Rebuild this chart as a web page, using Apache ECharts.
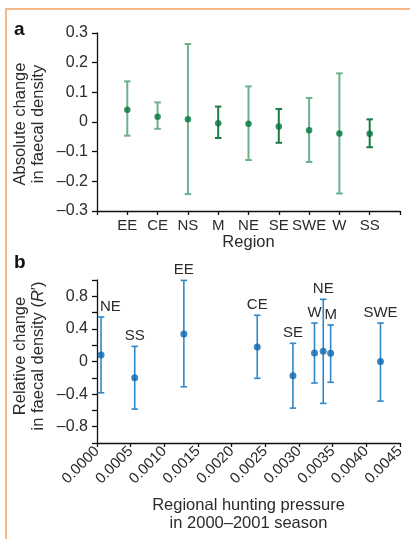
<!DOCTYPE html>
<html><head><meta charset="utf-8">
<script src="https://cdn.jsdelivr.net/npm/echarts@6/dist/echarts.min.js"></script>
<style>html,body{margin:0;padding:0;background:#fff}#c{width:410px;height:539px}</style>
</head><body><div id="c"></div>
<script>
// Panel a: absolute change in faecal density by region
const regionsA = ['EE','CE','NS','M','NE','SE','SWE','W','SS'];
const meanA  = [0.041, 0.018, 0.009, -0.004, -0.006, -0.015, -0.028, -0.039, -0.040];
const lowerA = [-0.046, -0.023, -0.243, -0.054, -0.128, -0.070, -0.135, -0.241, -0.085];
const upperA = [0.137, 0.066, 0.263, 0.052, 0.120, 0.044, 0.081, 0.164, 0.009];
// Panel b: relative change vs regional hunting pressure
const regionsB  = ['NE','SS','EE','CE','SE','W','NE','M','SWE'];
const pressureB = [0.00006, 0.00056, 0.00129, 0.00238, 0.00291, 0.00323, 0.00336, 0.00347, 0.00421];
const meanB  = [0.080, -0.200, 0.337, 0.178, -0.174, 0.104, 0.125, 0.100, 0.000];
const lowerB = [-0.384, -0.584, -0.310, -0.206, -0.572, -0.264, -0.514, -0.255, -0.486];
const upperB = [0.546, 0.186, 0.995, 0.567, 0.223, 0.472, 0.763, 0.448, 0.472];
const labelTicksB = [0.8, 0.4, 0, -0.4, -0.8];

const FONT = '"Liberation Sans", Arial, Helvetica, sans-serif';
const TXT = '#2b2b2b';
const AX = '#111';
const darkBarRegions = ['M','SE','SS'];

function fmtMinus(v){
  const r = Math.round(v*1e6)/1e6;
  if (r === 0) return '0';
  return (r < 0 ? '\u2013' : '') + Math.abs(r);
}

const chart = echarts.init(document.getElementById('c'), null, {renderer:'canvas'});

function errRender(colorFn, capW, lw, withLabel){
  return function(params, api){
    const x = api.value(0), lo = api.value(1), hi = api.value(2);
    const pLo = api.coord([x, lo]), pHi = api.coord([x, hi]);
    const st = {stroke: colorFn(params.dataIndex), lineWidth: lw};
    const children = [
      {type:'line', shape:{x1:pLo[0], y1:pLo[1], x2:pHi[0], y2:pHi[1]}, style:st},
      {type:'line', shape:{x1:pLo[0]-capW/2, y1:pLo[1], x2:pLo[0]+capW/2, y2:pLo[1]}, style:st},
      {type:'line', shape:{x1:pHi[0]-capW/2, y1:pHi[1], x2:pHi[0]+capW/2, y2:pHi[1]}, style:st}
    ];
    if (withLabel) {
      const axisX = api.coord([0, 0])[0];
      const nearAxis = pHi[0] - 12 < axisX;
      children.push({type:'text', x: nearAxis ? axisX + 3 : pHi[0], y:pHi[1]-3, style:{
        text: regionsB[params.dataIndex], align: nearAxis ? 'left' : 'center', verticalAlign:'bottom',
        fill: TXT, fontSize: 15, fontFamily: FONT }});
    }
    return {type:'group', children};
  };
}

const axisLineStyle = {color: AX, width: 1.3};

const option = {
  animation: false,
  backgroundColor: '#fff',
  grid: [
    {left: 97, right: 10, top: 33, height: 178, containLabel:false, outerBoundsMode:'none'},
    {left: 97, right: 10, top: 280, height: 163, containLabel:false, outerBoundsMode:'none'}
  ],
  xAxis: [
    {type:'value', gridIndex:0, min:0, max:10, interval:1,
     axisLine:{show:true, onZero:false, lineStyle:axisLineStyle},
     axisTick:{show:true, length:4, lineStyle:axisLineStyle},
     splitLine:{show:false},
     axisLabel:{formatter: v => regionsA[v-1] || '', fontSize:15, color:TXT, fontFamily:FONT, margin:7, hideOverlap:false},
     name:'Region', nameLocation:'middle', nameGap:23,
     nameTextStyle:{fontSize:16.5, color:TXT, fontFamily:FONT}},
    {type:'value', gridIndex:1, min:0, max:0.0045, interval:0.0005,
     axisLine:{show:true, onZero:false, lineStyle:axisLineStyle},
     axisTick:{show:true, length:4, lineStyle:axisLineStyle},
     splitLine:{show:false},
     axisLabel:{formatter: v => v.toFixed(4), rotate:45, fontSize:15, color:TXT, fontFamily:FONT, margin:6, hideOverlap:false, showMinLabel:true, showMaxLabel:true},
     name:'Regional hunting pressure\nin 2000\u20132001 season', nameLocation:'middle', nameGap:53,
     nameTextStyle:{fontSize:16.5, color:TXT, fontFamily:FONT, lineHeight:18.5}}
  ],
  yAxis: [
    {type:'value', gridIndex:0, min:-0.3, max:0.3, interval:0.1,
     axisLine:{show:true, onZero:false, lineStyle:axisLineStyle},
     axisTick:{show:true, length:5, lineStyle:axisLineStyle},
     splitLine:{show:false},
     axisLabel:{formatter: fmtMinus, fontSize:16, color:TXT, fontFamily:FONT, margin:9, showMinLabel:true, showMaxLabel:true}},
    {type:'value', gridIndex:1, min:-1, max:1, interval:0.2,
     axisLine:{show:true, onZero:false, lineStyle:axisLineStyle},
     axisTick:{show:true, length:5, lineStyle:axisLineStyle},
     splitLine:{show:false},
     axisLabel:{formatter: v => labelTicksB.some(t => Math.abs(t - v) < 1e-6) ? fmtMinus(v) : '',
       fontSize:16, color:TXT, fontFamily:FONT, margin:9, showMinLabel:true, showMaxLabel:true}}
  ],
  series: [
    {type:'custom', xAxisIndex:0, yAxisIndex:0, clip:false,
     renderItem: errRender(i => darkBarRegions.indexOf(regionsA[i]) >= 0 ? '#1b7a45' : '#6cb08a', 6.5, 2, false),
     data: regionsA.map((r,i) => [i+1, lowerA[i], upperA[i]]), z:2},
    {type:'scatter', xAxisIndex:0, yAxisIndex:0, symbol:'circle', symbolSize:6.5,
     itemStyle:{color:'#00773b'}, data: regionsA.map((r,i) => [i+1, meanA[i]]), z:3},
    {type:'custom', xAxisIndex:1, yAxisIndex:1, clip:false,
     renderItem: errRender(() => '#2f86c8', 6.5, 1.6, true),
     data: pressureB.map((p,i) => [p, lowerB[i], upperB[i]]), z:2},
    {type:'scatter', xAxisIndex:1, yAxisIndex:1, symbol:'circle', symbolSize:7,
     itemStyle:{color:'#0b67b2'}, data: pressureB.map((p,i) => [p, meanB[i]]), z:3}
  ],
  graphic: [
    {type:'line', shape:{x1:5, y1:9, x2:410, y2:9}, style:{stroke:'#f5b98b', lineWidth:2}},
    {type:'line', shape:{x1:6, y1:9, x2:6, y2:539}, style:{stroke:'#f5b98b', lineWidth:2}},
    {type:'text', x:14, y:39, style:{text:'a', fontSize:19, fontWeight:'bold', fill:'#111', fontFamily:FONT, verticalAlign:'bottom'}},
    {type:'text', x:14, y:272, style:{text:'b', fontSize:19, fontWeight:'bold', fill:'#111', fontFamily:FONT, verticalAlign:'bottom'}},
    {type:'text', x:29.5, y:124, rotation:Math.PI/2, style:{text:'Absolute change\nin faecal density',
      align:'center', verticalAlign:'middle', fontSize:16.5, lineHeight:18, fill:TXT, fontFamily:FONT}},
    {type:'text', x:29.5, y:356, rotation:Math.PI/2, style:{text:'{n|Relative change}\n{n|in faecal density (}{i|R}{n|\u2032)}',
      align:'center', verticalAlign:'middle', fill:TXT, fontFamily:FONT,
      rich:{n:{fontSize:16.5, lineHeight:18, fill:TXT, fontFamily:FONT},
            i:{fontSize:16.5, lineHeight:18, fill:TXT, fontFamily:FONT, fontStyle:'italic'}}}}
  ]
};
chart.setOption(option);
</script></body></html>
